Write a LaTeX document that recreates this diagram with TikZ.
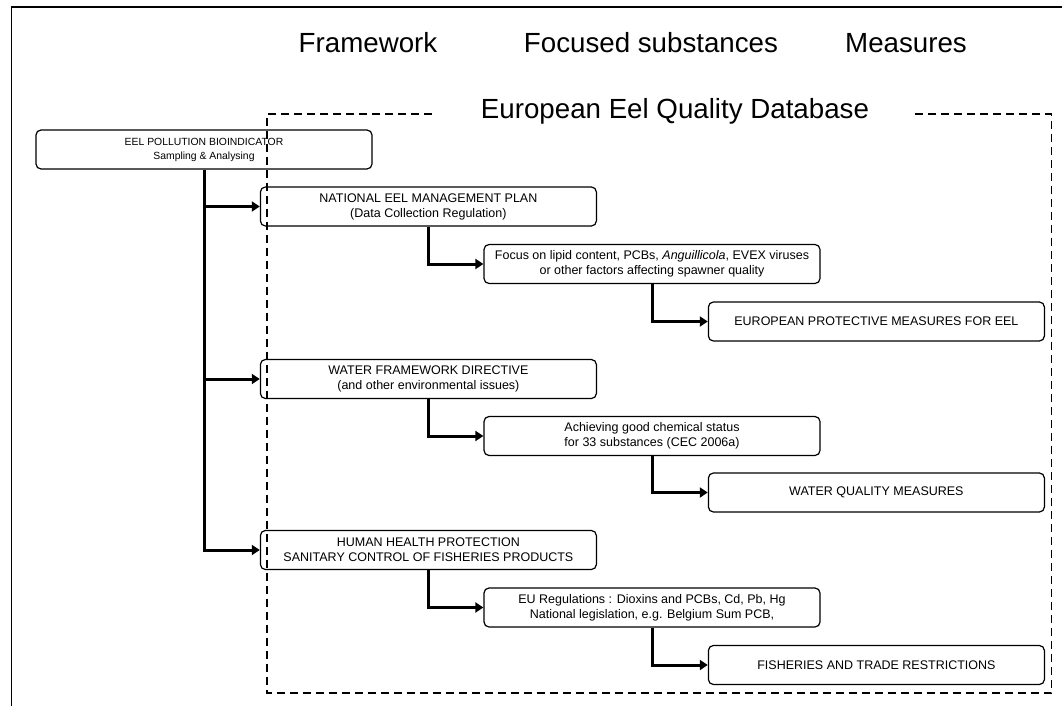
\documentclass[tikz,border=0pt]{standalone}
\usepackage{fontspec}
\setmainfont{Liberation Sans}
\usetikzlibrary{arrows.meta}
\begin{document}
\begin{tikzpicture}[x=1pt,y=-1pt,
  box/.style={draw, line width=1.2pt, rounded corners=5pt, fill=white, minimum width=336pt, minimum height=39pt, inner sep=0pt, align=center, font=\fontsize{12.5}{15}\selectfont},
  flow/.style={line width=3pt, -{Triangle[length=8pt,width=10pt]}, line join=miter},
  heading/.style={font=\fontsize{27.7}{32}\selectfont, inner sep=0pt, anchor=base},
  frame/.style={line width=1.5pt},
  dbline/.style={line width=1.5pt, dash pattern=on 8pt off 5pt}
]
\useasboundingbox (0,0) rectangle (1062,706);
% outer frame (cut at right and bottom)
\draw[frame] (11.4,706) -- (11.4,7) -- (1062,7);

% headings
\node[heading] (hfw) at (368,53) {Framework};
\node[heading] (hfs) at (651,53) {Focused substances};
\node[heading] (hms) at (906,53) {Measures};
\node[heading] (hdb) at (675,119) {European Eel Quality Database};

% boxes
\node[box, font=\fontsize{10.4}{14}\selectfont] (A) at (204,149.5) {EEL POLLUTION BIOINDICATOR\\Sampling \& Analysing};
\node[box] (B) at (428.4,206.5) {NATIONAL EEL MANAGEMENT PLAN\\(Data Collection Regulation)};
\node[box] (C) at (428.4,379) {WATER FRAMEWORK DIRECTIVE\\(and other environmental issues)};
\node[box] (D) at (428.4,550) {HUMAN HEALTH PROTECTION\\SANITARY CONTROL OF FISHERIES PRODUCTS};
\node[box] (E) at (652,264) {Focus on lipid content, PCBs, \textit{Anguillicola}, EVEX viruses\\or other factors affecting spawner quality};
\node[box] (F) at (876.4,321.5) {EUROPEAN PROTECTIVE MEASURES FOR EEL};
\node[box] (G) at (652,436) {Achieving good chemical status\\for 33 substances (CEC 2006a)};
\node[box] (H) at (876.4,492.5) {WATER QUALITY MEASURES};
\node[box] (I) at (652,607.5) {EU Regulations : Dioxins and PCBs, Cd, Pb, Hg\\National legislation, e.g. Belgium Sum PCB,};
\node[box] (J) at (876.4,665) {FISHERIES AND TRADE RESTRICTIONS};

% connectors
\draw[flow] (A.south) |- (B.west);
\draw[flow] (A.south) |- (C.west);
\draw[flow] (A.south) |- (D.west);
\draw[flow] (B.south) |- (E.west);
\draw[flow] (E.south) |- (F.west);
\draw[flow] (C.south) |- (G.west);
\draw[flow] (G.south) |- (H.west);
\draw[flow] (D.south) |- (I.west);
\draw[flow] (I.south) |- (J.west);

% database dashed frame
\coordinate (d1) at (432,114);
\coordinate (d2) at (266.9,114);
\coordinate (d3) at (266.9,693);
\coordinate (d4) at (1051.3,693);
\coordinate (d5) at (1051.3,114);
\coordinate (d6) at (910.6,114);
\draw[dbline] (d1) -- (d2) -- (d3) -- (d4) -- (d5) -- (d6);
\end{tikzpicture}
\end{document}
